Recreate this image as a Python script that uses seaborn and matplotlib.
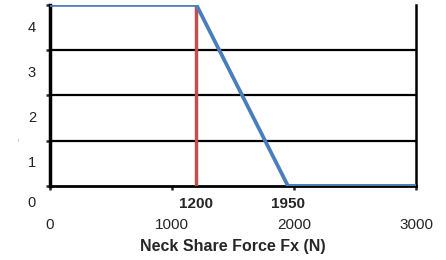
import numpy as np
import pandas as pd
import seaborn as sns
from matplotlib import pyplot as plt

# data
force = [0, 1200, 1950, 3000]
score = [4, 4, 0, 0]
limit_line = [1200]
marked = [1200, 1950]
xticks = [0, 1000, 2000, 3000]
ylabels = ['0', '1', '2', '3', '4']

sns.set_style('white')
plt.rcParams['font.family'] = ['Liberation Sans', 'DejaVu Sans']

fig = plt.figure(figsize=(4.46, 2.6), dpi=100)
ax = fig.add_axes([0.112, 0.285, 0.821, 0.696])

df = pd.DataFrame({'Fx': force, 'score': score})
sns.lineplot(data=df, x='Fx', y='score', ax=ax, color='#4a7ebb', lw=2.7,
             zorder=4, solid_capstyle='butt')
for v in limit_line:
    ax.axvline(v, color='#c0504d', lw=2.5, zorder=3)

ax.set_xlim(0, 3000)
ax.set_ylim(0, 4)
for g in [1, 2, 3]:
    ax.axhline(g, color='black', lw=1.6, zorder=1)

for s in ['left', 'right', 'bottom', 'top']:
    ax.spines[s].set_color('black')
ax.spines['left'].set_linewidth(2.5)
ax.spines['bottom'].set_linewidth(2.0)
ax.spines['right'].set_linewidth(1.8)
ax.spines['top'].set_visible(False)

ax.set_xticks(xticks)
ax.set_xticklabels([str(t) for t in xticks], fontsize=11)
ax.tick_params(axis='x', direction='out', length=3, width=1.8, pad=20,
               bottom=True)
ax.set_yticks([0, 1, 2, 3, 4])
ax.set_yticklabels([])
ax.tick_params(axis='y', direction='out', length=3, width=1.8, left=True)

# y labels sit half a step below each gridline ("0" a bit higher)
for i, lab in enumerate(ylabels):
    ypos = i - 0.5 if i > 0 else -0.38
    ax.annotate(lab, xy=(0, ypos), xycoords=('axes fraction', 'data'),
                xytext=(-13, 0), textcoords='offset points',
                ha='center', va='center', fontsize=10.5, color='#222222',
                annotation_clip=False)

for v in marked:
    ax.annotate(str(v), xy=(v, 0), xycoords=('data', 'axes fraction'),
                xytext=(0, -13), textcoords='offset points',
                ha='center', va='center', fontsize=11, fontweight='bold',
                annotation_clip=False)

ax.set_xlabel('Neck Share Force Fx (N)', fontsize=11.5, fontweight='bold',
              labelpad=5)
ax.set_ylabel('')
fig.text(0.04, 0.457, 'f', fontsize=2.5, color='gray', ha='center', va='center')

fig.savefig('out.png', dpi=100)
